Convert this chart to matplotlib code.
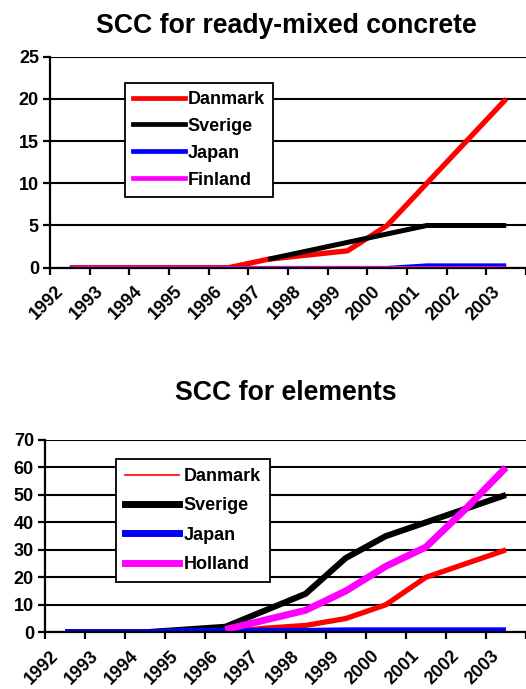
"""Two Excel-style line charts: SCC usage for ready-mixed concrete and elements."""
import numpy as np
import matplotlib as mpl
import matplotlib.pyplot as plt
from matplotlib.lines import Line2D
from matplotlib.transforms import ScaledTranslation

mpl.rcParams.update({
    "font.family": "Liberation Sans", "font.weight": "bold",
    "axes.linewidth": 1.6,
})

years = ["1992", "1993", "1994", "1995", "1996", "1997",
         "1998", "1999", "2000", "2001", "2002", "2003"]
nan = np.nan

# ready-mixed concrete
rmc_danmark = [0, 0, 0, 0, 0, 1, 1.5, 2, 5, 10, 15, 20]
rmc_sverige = [nan, nan, nan, nan, nan, 1, 2, 3, 4, 5, 5, 5]
rmc_japan = [0, 0, 0, 0, 0, 0, 0, 0, 0, 0.3, 0.3, 0.3]
rmc_finland = [0, 0, 0, 0, 0, 0, 0, 0, 0, 0, 0, 0]

# elements
el_danmark = [0, 0, 0, 0, 0, 1.5, 2.5, 5, 10, 20, 25, 30]
el_sverige = [0, 0, 0, 1, 2, 8, 14, 27, 35, 40, 45, 50]
el_japan = [0, 0, 0, 0.5, 0.5, 0.5, 0.5, 0.7, 0.7, 0.7, 0.7, 0.7]
el_holland = [nan, nan, nan, nan, 1, 4.5, 8, 15, 24, 31, 45, 60]

RED, BLACK, BLUE, MAG = "#FF0000", "#000000", "#0000FF", "#FF00FF"
FS = 13


def style_axes(ax, ymax, ystep, fig):
    x = np.arange(len(years))
    ax.set_xlim(-0.5, len(years) - 0.5)
    ax.set_ylim(0, ymax)
    ax.set_yticks(np.arange(0, ymax + 1, ystep))
    ax.yaxis.grid(True, color="black", lw=1.5)
    ax.set_axisbelow(True)
    for s in ("top", "right"):
        ax.spines[s].set_visible(False)
    ax.tick_params(axis="y", direction="out", length=5, width=1.6,
                   labelsize=FS, pad=3)
    # tick marks on category boundaries, labels on centres
    ax.set_xticks(np.arange(-0.5, len(years) + 0.5, 1), minor=True)
    ax.tick_params(axis="x", which="minor", direction="out", length=5, width=1.6)
    ax.set_xticks(x)
    ax.set_xticklabels(years, rotation=45, ha="right", va="top",
                       rotation_mode="anchor", fontsize=FS)
    ax.tick_params(axis="x", which="major", length=0, pad=11)
    off = ScaledTranslation(-15 / 100, 0, fig.dpi_scale_trans)
    for lab in ax.get_xticklabels():
        lab.set_transform(lab.get_transform() + off)
        lab.set_fontweight("bold")
    for lab in ax.get_yticklabels():
        lab.set_fontweight("bold")


fig = plt.figure(figsize=(5.26, 6.89), dpi=100)
x = np.arange(len(years))

# --- top chart
ax1 = fig.add_axes([50 / 526, 1 - 267.7 / 689, 476 / 526, 211 / 689])
ax1.plot(x, rmc_danmark, color=RED, lw=3.8, solid_capstyle="butt")
ax1.plot(x, rmc_sverige, color=BLACK, lw=3.6, solid_capstyle="butt")
ax1.plot(x, rmc_japan, color=BLUE, lw=2.6, solid_capstyle="butt")
ax1.plot(x, rmc_finland, color=MAG, lw=3.6, solid_capstyle="butt")
style_axes(ax1, 25, 5, fig)
h1 = [Line2D([], [], color=RED, lw=3.4), Line2D([], [], color=BLACK, lw=3.4),
      Line2D([], [], color=BLUE, lw=3.4), Line2D([], [], color=MAG, lw=3.4)]
leg1 = ax1.legend(h1, ["Danmark", "Sverige", "Japan", "Finland"],
                  loc="upper left", bbox_to_anchor=(75 / 476, 1 - 26 / 211),
                  fancybox=False, framealpha=1, edgecolor="black",
                  prop={"size": FS, "weight": "bold"}, handlelength=2.9,
                  handletextpad=0.12, labelspacing=0.55, borderpad=0.45,
                  borderaxespad=0)
leg1.get_frame().set_linewidth(1.3)
fig.text(286 / 526, 1 - 33 / 689, "SCC for ready-mixed concrete",
         ha="center", va="baseline", fontsize=19.2, fontweight="bold")

# --- bottom chart
ax2 = fig.add_axes([45 / 526, 1 - 632.3 / 689, 481 / 526, 192.3 / 689])
ax2.plot(x, el_danmark, color=RED, lw=3.8, solid_capstyle="butt")
ax2.plot(x, el_sverige, color=BLACK, lw=4.4, solid_capstyle="butt")
ax2.plot(x, el_japan, color=BLUE, lw=4.4, solid_capstyle="butt")
ax2.plot(x, el_holland, color=MAG, lw=5, solid_capstyle="butt")
style_axes(ax2, 70, 10, fig)
h2 = [Line2D([], [], color=RED, lw=1.2), Line2D([], [], color=BLACK, lw=5),
      Line2D([], [], color=BLUE, lw=5), Line2D([], [], color=MAG, lw=5)]
leg2 = ax2.legend(h2, ["Danmark", "Sverige", "Japan", "Holland"],
                  loc="upper left", bbox_to_anchor=(71 / 481, 1 - 19 / 192.3),
                  fancybox=False, framealpha=1, edgecolor="black",
                  prop={"size": FS, "weight": "bold"}, handlelength=3.0,
                  handletextpad=0.25, labelspacing=0.68, borderpad=0.5,
                  borderaxespad=0)
leg2.get_frame().set_linewidth(1.3)
fig.text(286 / 526, 1 - 400 / 689, "SCC for elements",
         ha="center", va="baseline", fontsize=19.2, fontweight="bold")

fig.savefig("out.png", dpi=100, facecolor="white")
